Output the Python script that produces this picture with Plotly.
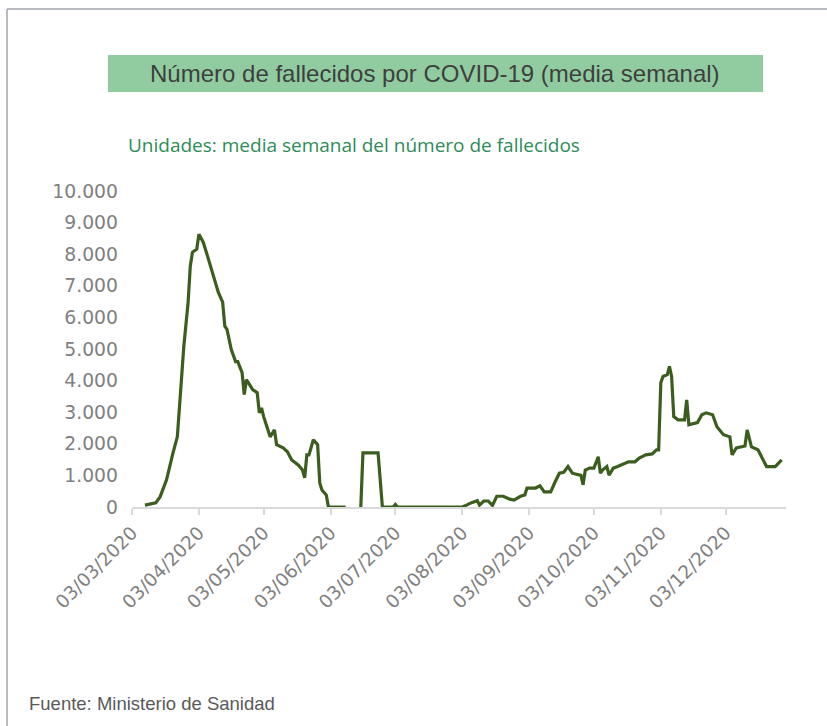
import plotly.graph_objects as go

# Media semanal de fallecidos por COVID-19 (vértices de la serie)
fechas = [
    "2020-03-09", "2020-03-14", "2020-03-16", "2020-03-19", "2020-03-22", "2020-03-24",
    "2020-03-25", "2020-03-27", "2020-03-29", "2020-03-30", "2020-03-31", "2020-04-02",
    "2020-04-03", "2020-04-05", "2020-04-07", "2020-04-10", "2020-04-12", "2020-04-14",
    "2020-04-15", "2020-04-16", "2020-04-18", "2020-04-20", "2020-04-21", "2020-04-23",
    "2020-04-24", "2020-04-25", "2020-04-28", "2020-04-30", "2020-05-01", "2020-05-02",
    "2020-05-03", "2020-05-06", "2020-05-08", "2020-05-09", "2020-05-12", "2020-05-14",
    "2020-05-16", "2020-05-19", "2020-05-21", "2020-05-22", "2020-05-23", "2020-05-24",
    "2020-05-26", "2020-05-28", "2020-05-29", "2020-05-30", "2020-06-01", "2020-06-02",
    "2020-06-10", "2020-06-13", "2020-06-17", "2020-06-18", "2020-06-25", "2020-06-27",
    "2020-07-02", "2020-07-03", "2020-07-04", "2020-08-03", "2020-08-05", "2020-08-07",
    "2020-08-10", "2020-08-11", "2020-08-13", "2020-08-15", "2020-08-17", "2020-08-19",
    "2020-08-22", "2020-08-25", "2020-08-27", "2020-08-30", "2020-09-01", "2020-09-02",
    "2020-09-06", "2020-09-08", "2020-09-10", "2020-09-13", "2020-09-15", "2020-09-17",
    "2020-09-19", "2020-09-21", "2020-09-23", "2020-09-26", "2020-09-27", "2020-09-28",
    "2020-09-29", "2020-10-01", "2020-10-03", "2020-10-05", "2020-10-06", "2020-10-07",
    "2020-10-09", "2020-10-10", "2020-10-12", "2020-10-14", "2020-10-16", "2020-10-19",
    "2020-10-22", "2020-10-24", "2020-10-27", "2020-10-30", "2020-11-01", "2020-11-02",
    "2020-11-03", "2020-11-04", "2020-11-06", "2020-11-07", "2020-11-08", "2020-11-09",
    "2020-11-11", "2020-11-14", "2020-11-15", "2020-11-16", "2020-11-20", "2020-11-22",
    "2020-11-24", "2020-11-27", "2020-11-29", "2020-12-02", "2020-12-05", "2020-12-06",
    "2020-12-08", "2020-12-10", "2020-12-12", "2020-12-13", "2020-12-15", "2020-12-18",
    "2020-12-20", "2020-12-22", "2020-12-26", "2020-12-28", "2020-12-29",
]
fallecidos = [
    60, 130, 320, 860, 1710, 2220,
    3170, 5080, 6480, 7620, 8060, 8160,
    8630, 8380, 7940, 7210, 6790, 6480,
    5720, 5620, 4980, 4600, 4600, 4250,
    3560, 4030, 3710, 3620, 2980, 3140,
    2860, 2220, 2440, 1970, 1870, 1750,
    1490, 1330, 1170, 920, 1650, 1650,
    2130, 1970, 760, 540, 380, 0,
    0, None, 0, 1710, 1710, 0,
    0, 80, 0, 0, 60, 130,
    200, 60, 190, 190, 50, 340,
    340, 250, 220, 340, 380, 600,
    600, 670, 480, 480, 790, 1070,
    1100, 1280, 1070, 1010, 1000, 700,
    1170, 1230, 1230, 1590, 1070, 1170,
    1280, 1010, 1230, 1280, 1330, 1430,
    1430, 1550, 1650, 1680, 1810, 1810,
    3930, 4130, 4190, 4450, 4130, 2860,
    2760, 2760, 3390, 2600, 2670, 2920,
    2980, 2920, 2540, 2290, 2220, 1650,
    1870, 1900, 1930, 2440, 1900, 1810,
    1550, 1280, 1280, 1430, 1490,
]

fechas_eje = [
    "2020-03-03", "2020-04-03", "2020-05-03", "2020-06-03", "2020-07-03",
    "2020-08-03", "2020-09-03", "2020-10-03", "2020-11-03", "2020-12-03",
]
etiquetas_eje = [
    "03/03/2020", "03/04/2020", "03/05/2020", "03/06/2020", "03/07/2020",
    "03/08/2020", "03/09/2020", "03/10/2020", "03/11/2020", "03/12/2020",
]
valores_y = [0, 1000, 2000, 3000, 4000, 5000, 6000, 7000, 8000, 9000, 10000]
etiquetas_y = ["0", "1.000", "2.000", "3.000", "4.000", "5.000",
               "6.000", "7.000", "8.000", "9.000", "10.000"]

titulo = "Número de fallecidos por COVID-19 (media semanal)"
subtitulo = "Unidades: media semanal del número de fallecidos"
fuente = "Fuente: Ministerio de Sanidad"

W, H = 827, 726
L, R, T, B = 132, 786, 191, 507  # plot area in pixels


def px(x):
    return (x - L) / (R - L)


def py(y):
    return (B - y) / (B - T)


fig = go.Figure()
fig.add_trace(go.Scatter(
    x=fechas, y=fallecidos, mode="lines",
    line=dict(color="#3b5e1f", width=3.2),
    connectgaps=False, hoverinfo="x+y", showlegend=False,
))

fig.update_layout(
    width=W, height=H,
    margin=dict(l=L, r=W - R, t=T, b=H - B),
    paper_bgcolor="white", plot_bgcolor="white",
    xaxis=dict(
        type="date", range=["2020-03-03", "2020-12-31"],
        tickvals=fechas_eje, ticktext=etiquetas_eje, tickangle=-45,
        showgrid=False, zeroline=False,
        showline=True, linecolor="#d9d9d9", linewidth=1.5,
        ticks="outside", ticklen=6, tickcolor="#d9d9d9", tickwidth=1.5,
        tickfont=dict(family="DejaVu Sans", size=18.5, color="#808080"),
    ),
    yaxis=dict(
        range=[0, 10000], tickvals=valores_y, ticktext=etiquetas_y,
        showgrid=False, zeroline=False, showline=False, ticks="",
        ticklabelstandoff=13,
        tickfont=dict(family="DejaVu Sans", size=18.8, color="#808080"),
    ),
    font=dict(family="Liberation Sans"),
)

shapes = [
    # title banner
    dict(type="rect", xref="paper", yref="paper",
         x0=px(108), x1=px(763), y0=py(92), y1=py(55),
         fillcolor="#90cc9f", line=dict(width=0), layer="below"),
    # frame lines
    dict(type="line", xref="paper", yref="paper",
         x0=px(7), x1=px(827), y0=py(9), y1=py(9),
         line=dict(color="#a0a5ad", width=1.5)),
    dict(type="line", xref="paper", yref="paper",
         x0=px(7), x1=px(7), y0=py(9), y1=py(726),
         line=dict(color="#a0a5ad", width=1.5)),
]

annotations = [
    dict(text=titulo, xref="paper", yref="paper", x=px(435), y=py(73),
         xanchor="center", yanchor="middle", showarrow=False,
         font=dict(family="Liberation Sans", size=24, color="#3f3f3f")),
    dict(text=subtitulo, xref="paper", yref="paper", x=px(126), y=py(145),
         xanchor="left", yanchor="middle", showarrow=False,
         font=dict(family="Open Sans", size=19, color="#2e8b57")),
    dict(text=fuente, xref="paper", yref="paper", x=px(27), y=py(703),
         xanchor="left", yanchor="middle", showarrow=False,
         font=dict(family="Liberation Sans", size=18.5, color="#595959")),
]

fig.update_layout(shapes=shapes, annotations=annotations)
fig.write_html("out.html")
